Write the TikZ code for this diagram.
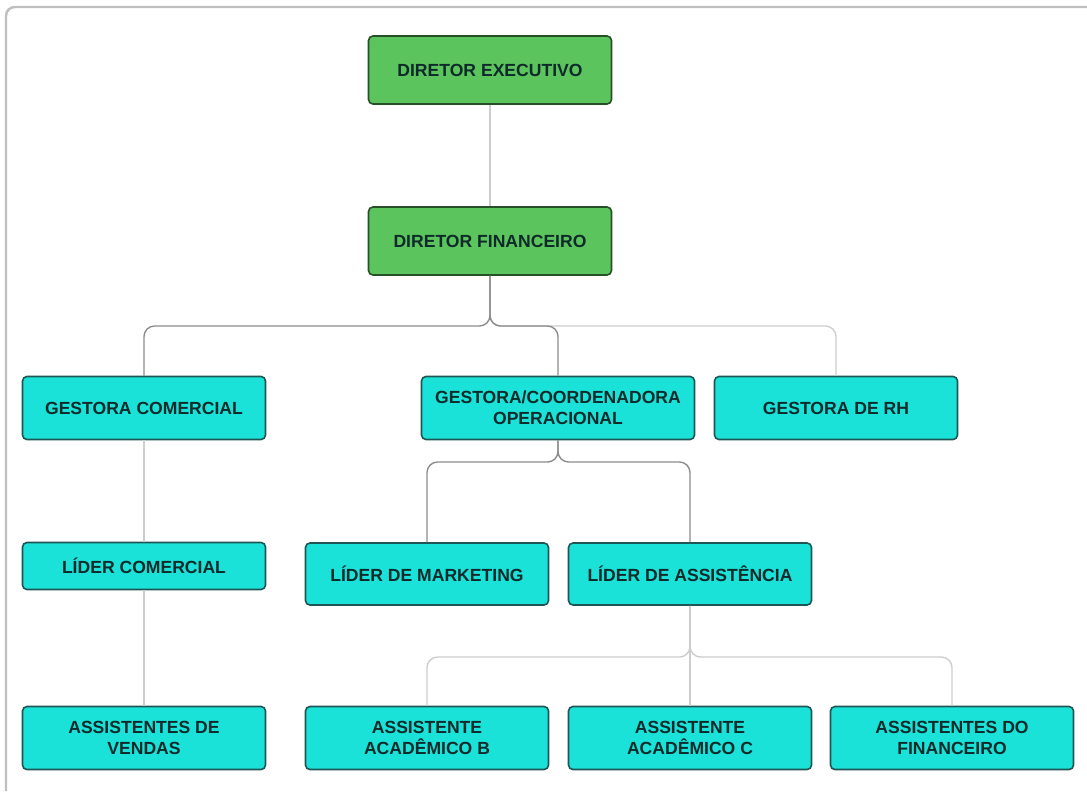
\documentclass[tikz,border=0pt]{standalone}
\usepackage{fontspec}
\setmainfont{Liberation Sans}
\usepackage{xcolor}
\definecolor{BoxGreen}{RGB}{92,196,92}
\definecolor{EdgeGreen}{RGB}{40,80,40}
\definecolor{BoxCyan}{RGB}{26,226,216}
\definecolor{EdgeCyan}{RGB}{30,85,85}
\definecolor{TextDark}{RGB}{15,42,42}
\definecolor{LinkGray}{RGB}{140,140,140}
\definecolor{LinkLight}{RGB}{205,205,205}
\usetikzlibrary{positioning,calc}
\tikzset{
	box/.style={draw, line width=0.9pt, rounded corners=2.5pt, align=center, inner sep=2pt,
		font=\fontsize{10}{12}\selectfont\bfseries, text=TextDark},
	greenbox/.style={box, fill=BoxGreen, draw=EdgeGreen, minimum width=4.86cm, minimum height=1.36cm},
	cyanbox/.style={box, fill=BoxCyan, draw=EdgeCyan, minimum width=4.86cm, minimum height=1.26cm},
	link/.style={draw=LinkGray, line width=0.8pt, rounded corners=6pt},
	light link/.style={link, draw=LinkLight}
}

\begin{document}
\begin{tikzpicture}[x=0.02cm, y=-0.02cm]
	\useasboundingbox (0,0) rectangle (1087,791);
	% moldura
	\draw[line width=1.4pt, draw=gray!50, rounded corners=5pt] (6,791) -- (6,7) -- (1087,7);
%
	% diretoria
	\node[greenbox] (exec) at (490,70) {DIRETOR EXECUTIVO};
	\node[greenbox] (fin) at (490,241) {DIRETOR FINANCEIRO};
%
	% gestoras
	\node[cyanbox] (gc) at (144,408) {GESTORA COMERCIAL};
	\node[cyanbox, minimum width=5.46cm] (gco) at (558,408) {GESTORA/COORDENADORA\\OPERACIONAL};
	\node[cyanbox] (rh) at (836,408) {GESTORA DE RH};
%
	% lideres
	\node[cyanbox, minimum height=0.94cm] (lc) at (144,566) {LÍDER COMERCIAL};
	\node[cyanbox, minimum height=1.24cm] (lm) at (427,574) {LÍDER DE MARKETING};
	\node[cyanbox, minimum height=1.24cm] (la) at (690,574) {LÍDER DE ASSISTÊNCIA};
%
	% assistentes
	\node[cyanbox] (av) at (144,738) {ASSISTENTES DE\\VENDAS};
	\node[cyanbox] (aab) at (427,738) {ASSISTENTE\\ACADÊMICO B};
	\node[cyanbox] (aac) at (690,738) {ASSISTENTE\\ACADÊMICO C};
	\node[cyanbox] (af) at (952,738) {ASSISTENTES DO\\FINANCEIRO};
%
	% niveis dos barramentos
	\coordinate (bus1) at (0,326);
	\coordinate (bus2) at (0,462);
	\coordinate (bus3) at (0,657);
%
	\draw[light link] (exec) -- (fin);
	\draw[light link] (fin.south) |- (rh.north |- bus1) -- (rh.north);
	\draw[link] (fin.south) |- (gc.north |- bus1) -- (gc.north);
	\draw[link] (fin.south) |- (gco.north |- bus1) -- (gco.north);
%
	\draw[light link] (gc) -- (lc);
	\draw[light link] (lc) -- (av);
%
	\draw[link] (gco.south) |- (lm.north |- bus2) -- (lm.north);
	\draw[link] (gco.south) |- (la.north |- bus2) -- (la.north);
%
	\draw[light link] (la.south) |- (aab.north |- bus3) -- (aab.north);
	\draw[light link] (la.south) |- (af.north |- bus3) -- (af.north);
	\draw[light link] (la) -- (aac);
\end{tikzpicture}
\end{document}
